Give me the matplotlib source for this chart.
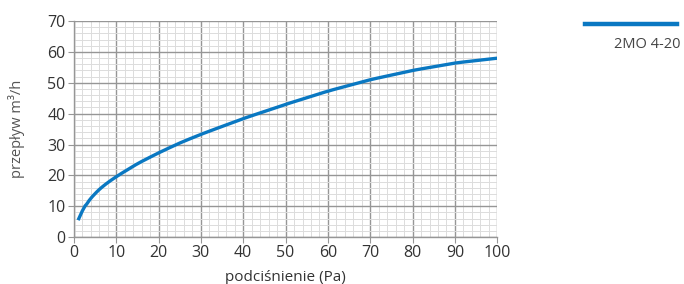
import numpy as np
import matplotlib
matplotlib.use("Agg")
import matplotlib.pyplot as plt
from matplotlib.ticker import MultipleLocator
from matplotlib.lines import Line2D

plt.rcParams['font.family'] = ['Open Sans', 'DejaVu Sans']

# curve
pressure = [1, 2, 3, 5, 7, 10, 15, 20, 25, 30, 40, 50, 60, 70, 80, 90, 100]
flow = [5.5, 8.5, 11.0, 14.2, 16.7, 19.6, 23.8, 27.3, 30.5, 33.3, 38.4, 43.0, 47.3, 51.0, 54.0, 56.4, 58.0]
series_name = "2MO 4-20"

blue = "#0a78c2"
major_c = "#969696"
minor_c = "#dcdcdc"
txt_c = "#333333"

fig = plt.figure(figsize=(6.84, 2.84), dpi=100)
ax = fig.add_axes([0.108, 0.165, 0.619, 0.761])

# smooth the curve through the read points
xs = np.linspace(1, 100, 300)
ys = np.interp(xs, pressure, flow)
k = np.ones(9) / 9
ys_s = np.convolve(np.pad(ys, 4, mode='edge'), k, mode='valid')
ys_s[:6] = ys[:6]
ax.plot(xs, ys_s, color=blue, lw=2.4, solid_capstyle='butt', zorder=3)

ax.set_xlim(0, 100)
ax.set_ylim(0, 70)
ax.xaxis.set_major_locator(MultipleLocator(10))
ax.yaxis.set_major_locator(MultipleLocator(10))
ax.xaxis.set_minor_locator(MultipleLocator(2))
ax.yaxis.set_minor_locator(MultipleLocator(2))
ax.grid(which='minor', color=minor_c, lw=0.7)
ax.grid(which='major', color=major_c, lw=1.0)
ax.set_axisbelow(True)

for s in ['top', 'right']:
    ax.spines[s].set_visible(False)
for s in ['left', 'bottom']:
    ax.spines[s].set_color(major_c)
    ax.spines[s].set_linewidth(1.0)

ax.tick_params(which='major', length=4, color=major_c, labelsize=11.5, labelcolor=txt_c, pad=2)
ax.tick_params(which='minor', length=0)

ax.set_xlabel("podciśnienie (Pa)", fontsize=11, color=txt_c, labelpad=6)
ax.set_ylabel("przepływ m³/h", fontsize=10.5, color="#555555", labelpad=16)

# legend drawn at the right
fig.add_artist(Line2D([585/684, 677/684], [1 - 24/284, 1 - 24/284], color=blue, lw=3.2,
                      transform=fig.transFigure))
fig.text(647/684, 1 - 44/284, series_name, ha='center', va='center', fontsize=10.5, color="#444444")

fig.savefig("out.png", dpi=100)
